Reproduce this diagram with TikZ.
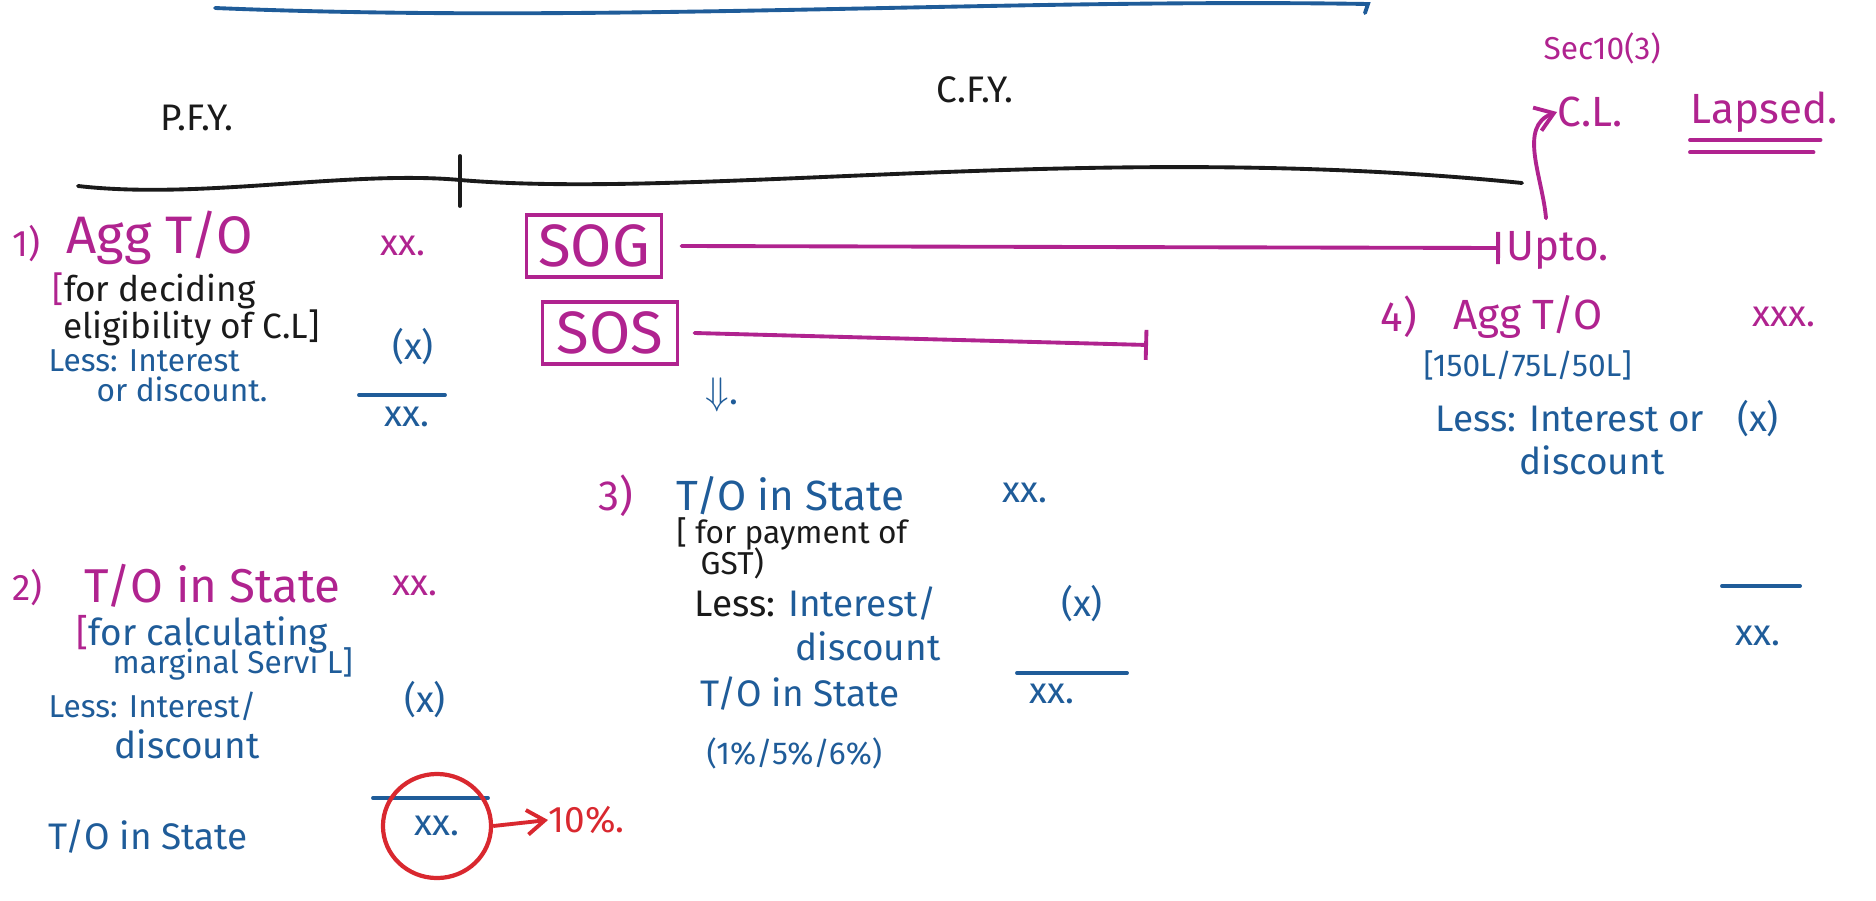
\documentclass[tikz,border=0pt]{standalone}
\usepackage{fontspec}
\setmainfont{Fira Sans}
\usetikzlibrary{arrows.meta, positioning, shapes.geometric}
\definecolor{penpink}{HTML}{B0238F}
\definecolor{penblue}{HTML}{1F5C99}
\definecolor{penred}{HTML}{D9282F}
\definecolor{penblack}{HTML}{1A1A1A}

\begin{document}
\begin{tikzpicture}[
  x=0.01cm, y=-0.01cm,
  every node/.style={inner sep=0pt},
  bigpen/.style={font=\fontsize{15}{17}\selectfont},
  midpen/.style={font=\fontsize{13.5}{15}\selectfont},
  headpen/.style={font=\fontsize{12}{14}\selectfont},
  smallpen/.style={font=\fontsize{10.5}{12}\selectfont},
  tinypen/.style={font=\fontsize{9}{11}\selectfont},
  inkpink/.style={text=penpink},
  inkblue/.style={text=penblue},
  inkblack/.style={text=penblack},
  pinkline/.style={draw=penpink, line width=1.1pt, line cap=round},
  blueline/.style={draw=penblue, line width=1.1pt, line cap=round},
  blackline/.style={draw=penblack, line width=1.1pt, line cap=round},
  sbox/.style={draw=penpink, line width=1.1pt, inkpink,
               font=\fontsize{17}{19}\selectfont,
               minimum width=1.35cm, minimum height=0.62cm},
  tip/.style={-{Straight Barb[length=5pt, width=7pt]}},
]
\useasboundingbox (0,0) rectangle (1876,900);

% heading rule and timeline
\coordinate (rule-l) at (215,8);
\coordinate (rule-r) at (1368,4);
\draw[blueline] (rule-l) .. controls (600,24) and (1000,-2) .. (rule-r) -- ++(-3,9);

\node[inkblack, smallpen] (pfy) at (197,118) {P.F.Y.};
\node[inkblack, smallpen] (cfy) at (975,90) {C.F.Y.};

\coordinate (tl-l) at (78,186);
\coordinate (tl-m) at (460,180);
\coordinate (tl-r) at (1522,183);
\draw[blackline] (tl-l) .. controls (200,200) and (350,170) .. (tl-m)
  .. controls (700,200) and (1100,140) .. (tl-r);
\draw[blackline] (tl-m) ++(0,-24) -- ++(0,50);

% supply of goods / services
\node[sbox] (sog) at (594,246) {SOG};
\coordinate (sog-end) at (1500,248);
\draw[pinkline, -{Bar[width=0.32cm]}] ([xshift=0.18cm]sog.east) -- (sog-end);
\node[inkpink, headpen, anchor=west] (upto) at (1506,250) {Upto.};

\node[sbox] (sos) at (610,333) {SOS};
\coordinate (sos-end) at (1148,345);
\draw[pinkline, -{Bar[width=0.3cm]}] ([xshift=0.15cm]sos.east) -- (sos-end);
\node[inkblue, smallpen] (down) at (722,395) {$\Downarrow$.};

% section 10(3)
\node[inkpink, tinypen, anchor=west] (sec) at (1543,48) {Sec10(3)};
\node[inkpink, headpen, anchor=west] (cl) at (1557,112) {C.L.};
\node[inkpink, headpen, anchor=west] (lapsed) at (1690,112) {Lapsed.};
\draw[pinkline] ([yshift=-2pt]lapsed.south west) -- ([yshift=-2pt,xshift=-5pt]lapsed.south east);
\draw[pinkline] ([yshift=-5.5pt]lapsed.south west) -- ([yshift=-5.5pt,xshift=-7pt]lapsed.south east);
\draw[pinkline, tip] ([xshift=0.4cm, yshift=0.12cm]upto.north west) to[out=95, in=200] (cl.west);

% 1) aggregate turnover
\node[inkpink, smallpen, anchor=west] (n1) at (12,244) {1)};
\node[inkpink, bigpen, anchor=west] (agg1) at (66,238) {Agg T/O};
\node[inkpink, smallpen, anchor=west] (v1) at (380,246) {xx.};
\node[inkblack, anchor=west, align=left, font=\fontsize{10}{10.5}\selectfont] (for1) at (52,309)
  {\textcolor{penpink}{[}for deciding\\\hspace*{3pt}eligibility of C.L]};
\node[inkblue, tinypen, anchor=west] (less1) at (48,361) {Less: Interest};
\node[inkblue, smallpen] (x1) at (413,347) {(x)};
\node[inkblue, tinypen, anchor=west] (disc1) at (96,389) {or discount.};
\coordinate (r1-l) at (359,395);
\coordinate (r1-r) at (445,395);
\draw[blueline] (r1-l) -- (r1-r);
\node[inkblue, smallpen] (t1) at (407,417) {xx.};

% 2) turnover in state
\node[inkpink, smallpen, anchor=west] (n2) at (12,588) {2)};
\node[inkpink, midpen, anchor=west] (st2) at (84,586) {T/O in State};
\node[inkpink, smallpen, anchor=west] (v2) at (392,586) {xx.};
\node[inkblue, smallpen, anchor=west] (for2) at (76,634) {\textcolor{penpink}{[}for calculating};
\node[inkblue, tinypen, anchor=west] (mar2) at (112,664) {marginal Servi L]};
\node[inkblue, tinypen, anchor=west] (less2) at (48,706) {Less: Interest/};
\node[inkblue, smallpen] (x2) at (425,700) {(x)};
\node[inkblue, smallpen, anchor=west] (disc2) at (114,744) {discount};
\coordinate (r2-l) at (373,798);
\coordinate (r2-r) at (488,798);
\draw[blueline] (r2-l) -- (r2-r);
\node[inkblue, smallpen, anchor=west] (in2) at (48,837) {T/O in State};
\node[inkblue, smallpen, ellipse, draw=penred, line width=1.2pt,
      minimum width=1.08cm, minimum height=1.04cm] (t2) at (437,826) {xx.};
\node[text=penred, smallpen, anchor=west] (pct) at (548,820) {10\%.};
\draw[draw=penred, line width=1.1pt, tip] (t2.east) -- (pct.west);

% 3) turnover in state for GST
\node[inkpink, headpen, anchor=west] (n3) at (598,496) {3)};
\node[inkblue, headpen, anchor=west] (st3) at (676,496) {T/O in State};
\node[inkblue, smallpen, anchor=west] (v3) at (1002,493) {xx.};
\node[inkblack, tinypen, anchor=west] (for3) at (676,534) {[ for payment of};
\node[inkblack, tinypen, anchor=west] (gst3) at (700,563) {GST)};
\node[inkblue, smallpen, anchor=west] (less3) at (694,604) {\textcolor{penblack}{Less:} Interest/};
\node[inkblue, smallpen] (x3) at (1082,604) {(x)};
\node[inkblue, smallpen, anchor=west] (disc3) at (795,646) {discount};
\coordinate (r3-l) at (1017,673);
\coordinate (r3-r) at (1127,673);
\draw[blueline] (r3-l) -- (r3-r);
\node[inkblue, smallpen, anchor=west] (in3) at (700,694) {T/O in State};
\node[inkblue, smallpen] (t3) at (1052,694) {xx.};
\node[inkblue, tinypen, anchor=west] (rate3) at (706,753) {(1\%/5\%/6\%)};

% 4) aggregate turnover limits
\node[inkpink, headpen, anchor=west] (n4) at (1380,317) {4)};
\node[inkpink, headpen, anchor=west] (agg4) at (1453,317) {Agg T/O};
\node[inkpink, smallpen, anchor=west] (v4) at (1752,317) {xxx.};
\node[inkblue, tinypen, anchor=west] (lim4) at (1423,365) {[150L/75L/50L]};
\node[inkblue, smallpen, anchor=west] (less4) at (1435,419) {Less: Interest or};
\node[inkblue, smallpen] (x4) at (1758,419) {(x)};
\node[inkblue, smallpen, anchor=west] (disc4) at (1519,460) {discount};
\coordinate (r4-l) at (1722,586);
\coordinate (r4-r) at (1800,586);
\draw[blueline] (r4-l) -- (r4-r);
\node[inkblue, smallpen] (t4) at (1758,636) {xx.};

\end{tikzpicture}
\end{document}
